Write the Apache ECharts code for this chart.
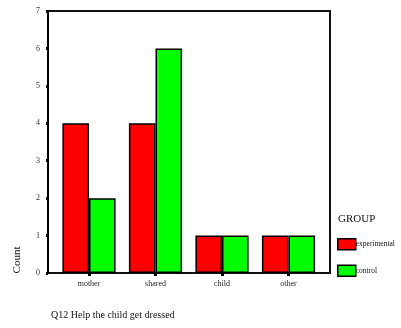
<!DOCTYPE html>
<html><head><meta charset="utf-8">
<script src="https://cdn.jsdelivr.net/npm/echarts@6/dist/echarts.min.js"></script>
<style>html,body{margin:0;padding:0;background:#fff}#c{width:401px;height:328px}</style>
</head><body><div id="c"></div>
<script>
const categories = ['mother', 'shared', 'child', 'other'];
const experimental = [4, 4, 1, 1];
const control = [2, 6, 1, 1];
const yTicks = [0, 1, 2, 3, 4, 5, 6, 7];
const FONT = "'Liberation Serif','Times New Roman',serif";

const chart = echarts.init(document.getElementById('c'), null, {renderer: 'canvas'});
chart.setOption({
  animation: false,
  backgroundColor: '#fff',
  textStyle: {fontFamily: FONT},
  title: [
    {text: 'Q12 Help the child get dressed', left: 46, top: 305,
     textStyle: {fontSize: 10, fontWeight: 'normal', color: '#111', fontFamily: FONT}},
    {text: 'GROUP', left: 333, top: 209,
     textStyle: {fontSize: 11, fontWeight: 'normal', color: '#111', fontFamily: FONT}}
  ],
  graphic: [{
    type: 'text', x: 17, y: 260, rotation: Math.PI / 2,
    style: {text: 'Count', fontSize: 11, fontFamily: FONT, fill: '#111',
            textAlign: 'center', textVerticalAlign: 'middle'}
  }],
  legend: {
    orient: 'vertical', left: 337, top: 238, itemWidth: 18, itemHeight: 11, itemGap: 14,
    icon: 'rect', padding: 0,
    textStyle: {fontSize: 7.5, fontFamily: FONT, color: '#111', padding: [0, 0, 0, -5]},
    data: [
      {name: 'experimental', itemStyle: {color: '#ff0000', borderColor: '#000', borderWidth: 1.5}},
      {name: 'control', itemStyle: {color: '#00ff00', borderColor: '#000', borderWidth: 1.5}}
    ]
  },
  grid: [
    {left: 48, top: 11, width: 282, height: 262, show: true, borderColor: '#111', borderWidth: 2, backgroundColor: 'transparent'},
    {left: 55.75, top: 11, width: 266, height: 262}
  ],
  xAxis: [
    {gridIndex: 0, type: 'category', data: [''], show: false},
    {gridIndex: 1, type: 'category', data: categories,
     axisLine: {show: false},
     axisTick: {show: true, alignWithLabel: true, length: 3, lineStyle: {color: '#000', width: 3}},
     axisLabel: {fontSize: 8, color: '#222', margin: 7, fontFamily: FONT}}
  ],
  yAxis: [
    {gridIndex: 0, type: 'value', min: 0, max: 7, interval: 1,
     axisLine: {show: true, lineStyle: {color: '#000', width: 2}},
     axisTick: {show: true, length: 2, lineStyle: {color: '#000', width: 3}},
     splitLine: {show: false},
     axisLabel: {fontSize: 8, color: '#333', margin: 8, fontFamily: FONT,
                 formatter: v => yTicks.includes(v) ? String(v) : ''}},
    {gridIndex: 1, type: 'value', min: 0, max: 7, interval: 1, show: false, splitLine: {show: false}}
  ],
  series: [
    {name: 'experimental', type: 'bar', xAxisIndex: 1, yAxisIndex: 1, data: experimental,
     barGap: '0%', barCategoryGap: '20%',
     itemStyle: {color: '#ff0000', borderColor: '#000', borderWidth: 1.5}},
    {name: 'control', type: 'bar', xAxisIndex: 1, yAxisIndex: 1, data: control,
     barGap: '0%', barCategoryGap: '20%',
     itemStyle: {color: '#00ff00', borderColor: '#000', borderWidth: 1.5}}
  ]
});
</script></body></html>
